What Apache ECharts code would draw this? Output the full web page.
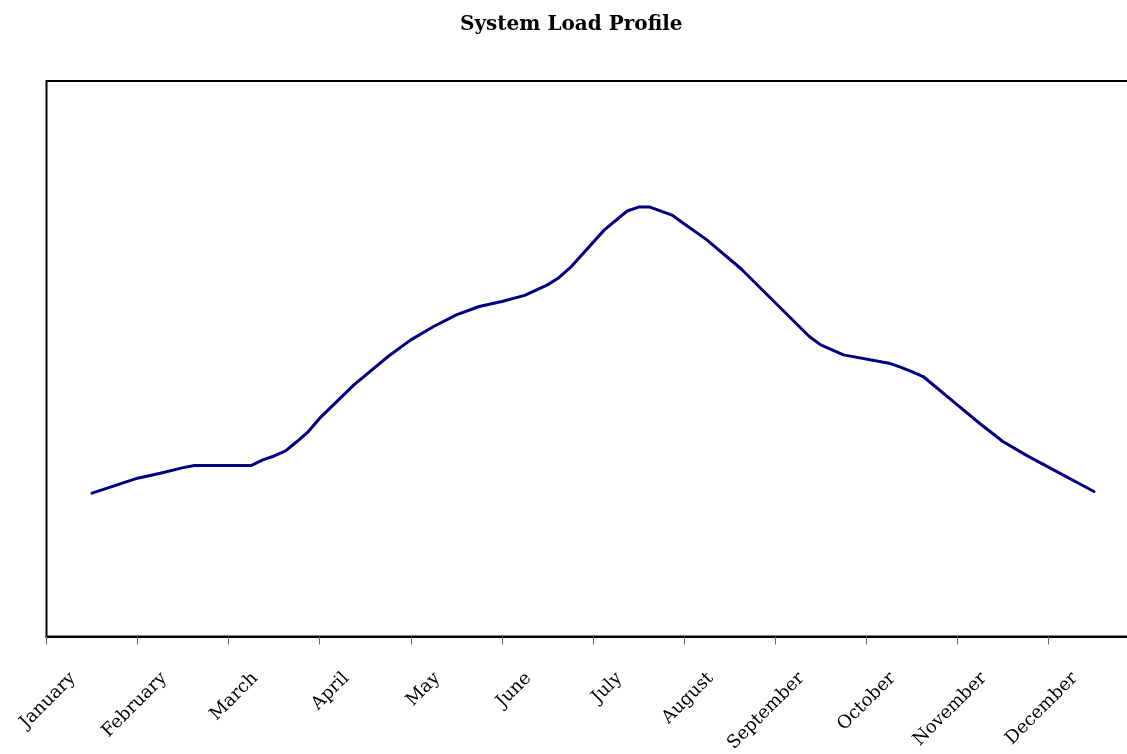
<!DOCTYPE html>
<html>
<head>
<meta charset="utf-8">
<title>System Load Profile</title>
<script src="https://cdn.jsdelivr.net/npm/echarts@6/dist/echarts.min.js"></script>
<style>
  html, body { margin: 0; padding: 0; background: #fff; overflow: hidden; }
  /* the plot frame runs past the right edge of the page, so the canvas is a bit wider */
  #chart { width: 1141px; height: 754px; }
</style>
</head>
<body>
<div id="chart"></div>
<script>
// Month names shown along the bottom axis
const months = ['January', 'February', 'March', 'April', 'May', 'June',
  'July', 'August', 'September', 'October', 'November', 'December'];

// Sample period (eight per month, 0 = mid-January, 88 = mid-December)
const periods = [0, 4, 6, 8, 9, 14, 15, 16, 17, 18, 19, 20, 23, 26, 28, 30, 32, 34,
  36, 38, 40, 41, 42, 45, 47, 48, 49, 51, 52, 54, 57, 63, 64, 65, 66, 70, 71, 72, 73,
  76, 78, 80, 82, 84, 88];

// System load at each sample period (relative units)
const load = [25.8, 28.5, 29.4, 30.4, 30.8, 30.8, 31.8, 32.5, 33.4, 35.1, 36.9, 39.3,
  45.3, 50.4, 53.4, 55.8, 57.9, 59.4, 60.3, 61.4, 63.3, 64.6, 66.4, 73.2, 76.6, 77.3,
  77.3, 75.8, 74.3, 71.4, 66.2, 54.0, 52.5, 51.6, 50.7, 49.2, 48.5, 47.7, 46.8, 41.7,
  38.3, 35.1, 32.7, 30.5, 26.1];

const points = periods.map((p, i) => [p, load[i]]);

const chart = echarts.init(document.getElementById('chart'), null, { renderer: 'canvas' });

chart.setOption({
  animation: false,
  backgroundColor: '#ffffff',
  title: {
    text: 'System Load Profile',
    left: 455,
    top: 10,
    textStyle: {
      fontFamily: 'DejaVu Serif',
      fontWeight: 'bold',
      fontSize: 20,
      color: '#000'
    }
  },
  grid: {
    left: 46.5,
    top: 81,
    width: 1093,
    height: 555.5,
    containLabel: false,
    outerBoundsMode: 'none',
    show: true,
    borderColor: '#000',
    borderWidth: 2,
    backgroundColor: 'transparent'
  },
  xAxis: [
    {
      type: 'category',
      data: months,
      boundaryGap: true,
      axisLine: { show: true, lineStyle: { color: '#000', width: 2 } },
      axisTick: { show: true, length: 8, lineStyle: { color: '#666', width: 1 } },
      axisLabel: {
        rotate: 45,
        interval: 0,
        margin: 20,
        padding: [0, 27, 0, 0],
        fontFamily: 'DejaVu Serif',
        fontSize: 18,
        color: '#000'
      },
      splitLine: { show: false }
    },
    {
      type: 'value',
      min: -4,
      max: 92,
      show: false
    }
  ],
  yAxis: {
    type: 'value',
    min: 0,
    max: 100,
    show: false,
    splitLine: { show: false }
  },
  series: [
    {
      type: 'line',
      xAxisIndex: 1,
      data: points,
      symbol: 'none',
      smooth: false,
      lineStyle: { color: '#000080', width: 3, cap: 'round', join: 'round' }
    }
  ]
});
</script>
</body>
</html>
